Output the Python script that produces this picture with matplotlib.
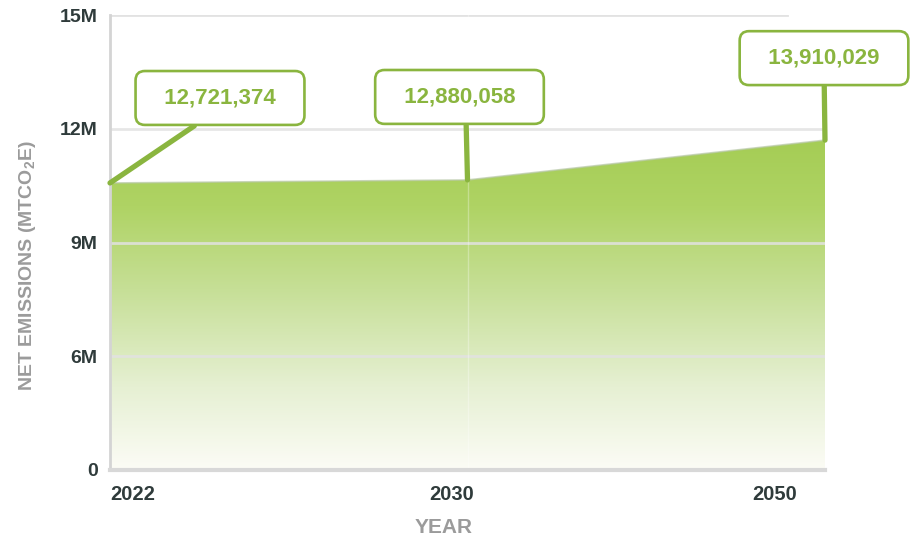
import numpy as np
import matplotlib
matplotlib.use("Agg")
import matplotlib.pyplot as plt
from matplotlib.colors import LinearSegmentedColormap
from matplotlib.transforms import ScaledTranslation

plt.rcParams['font.family'] = ['Liberation Sans', 'DejaVu Sans']
plt.rcParams['mathtext.fontset'] = 'custom'
plt.rcParams['mathtext.rm'] = 'Liberation Sans'
plt.rcParams['mathtext.bf'] = 'Liberation Sans:bold'

# ---- data ----
years = ['2022', '2030', '2050']
area_values = [10.57, 10.65, 11.70]
label_values = [12721374, 12880058, 13910029]  # values printed in callouts
y_ticks = [3, 6, 9, 12, 15]
y_tick_labels = ['0', '6M', '9M', '12M', '15M']

GREEN = '#8ab53f'
GRID = '#e2e2e2'
TICK = '#2f3b3b'
AXLAB = '#9b9b9b'

W, H = 913, 539
fig = plt.figure(figsize=(W / 100, H / 100), dpi=100)
ax = fig.add_axes([110 / W, (H - 470) / H, (825 - 110) / W, (470 - 15) / H])

x = np.arange(len(years))

# gradient fill clipped to area
cmap = LinearSegmentedColormap.from_list(
    'g', [(0.0, '#fcfcf6'), (0.25, '#e6f0d3'), (0.55, '#c6df96'),
          (0.8, '#afd364'), (1.0, '#a5cd55')])
poly = ax.fill_between(x, y_ticks[0], area_values, color='none', lw=0)
top = max(area_values)
grad = np.linspace(0, 1, 256).reshape(-1, 1)
im = ax.imshow(grad, cmap=cmap, origin='lower', aspect='auto',
               extent=[0, len(years) - 1, y_ticks[0], top],
               zorder=1, interpolation='bilinear')
im.set_clip_path(poly.get_paths()[0], transform=ax.transData)
ax.set_xlim(0, len(years) - 1)
ax.set_ylim(y_ticks[0], y_ticks[-1])
ax.plot(x, area_values, color='#b8c8a8', lw=1.2, zorder=2, alpha=0.7)

# grid lines
for yt in y_ticks[1:-1]:
    ax.axhline(yt, color=GRID, lw=2, zorder=1.5, alpha=0.85)
ax.axhline(y_ticks[-1], xmax=(787 - 110) / 715, color=GRID, lw=2, zorder=1.5)
ax.axvline(1, color='#ffffff', lw=1, alpha=0.3, zorder=1.6)

# spines
for s in ['top', 'right']:
    ax.spines[s].set_visible(False)
ax.spines['left'].set_color('#d4d4d4')
ax.spines['left'].set_linewidth(2)
ax.spines['bottom'].set_color('#d8d8d8')
ax.spines['bottom'].set_linewidth(3)

ax.set_yticks(y_ticks)
ax.set_yticklabels(y_tick_labels, fontsize=14, fontweight='bold', color=TICK)
ax.tick_params(axis='y', length=0, pad=9)
ax.set_xticks(x)
ax.set_xticklabels(years, fontsize=14.5, fontweight='bold', color=TICK)
ax.tick_params(axis='x', length=0, pad=11)
for lbl, ha, dx in zip(ax.get_xticklabels(), ['left', 'center', 'right'], [0, -16, -28]):
    lbl.set_ha(ha)
    lbl.set_transform(lbl.get_transform() + ScaledTranslation(dx / 100, 0, fig.dpi_scale_trans))

ax.set_ylabel(r'NET EMISSIONS (MTCO$_{\bf 2}$E)', fontsize=14,
              fontweight='bold', color=AXLAB, labelpad=0)
ax.yaxis.set_label_coords(-72 / 715, (470 - 266) / 455)
ax.set_xlabel('YEAR', fontsize=15, fontweight='bold', color=AXLAB)
ax.xaxis.set_label_coords((444 - 110) / 715, -(518 - 470) / 455)

# callouts
offsets = [(110, 85), (-8, 83), (-1, 82)]
relx = [0.5, 0.546, 0.5]
for xi, yi, val, (dx, dy), rx in zip(x, area_values, label_values, offsets, relx):
    ax.annotate('  ' + f'{val:,}' + '  ', xy=(xi, yi), xytext=(dx, dy),
                textcoords='offset pixels', ha='center', va='center',
                fontsize=16, fontweight='bold', color=GREEN,
                bbox=dict(boxstyle='round,pad=0.74,rounding_size=0.42',
                          fc='white', ec=GREEN, lw=1.9),
                arrowprops=dict(arrowstyle='-', color=GREEN, lw=3.8,
                                shrinkA=0, shrinkB=0, relpos=(rx, 0)),
                annotation_clip=False, zorder=5)

fig.savefig('out.png', dpi=100)
